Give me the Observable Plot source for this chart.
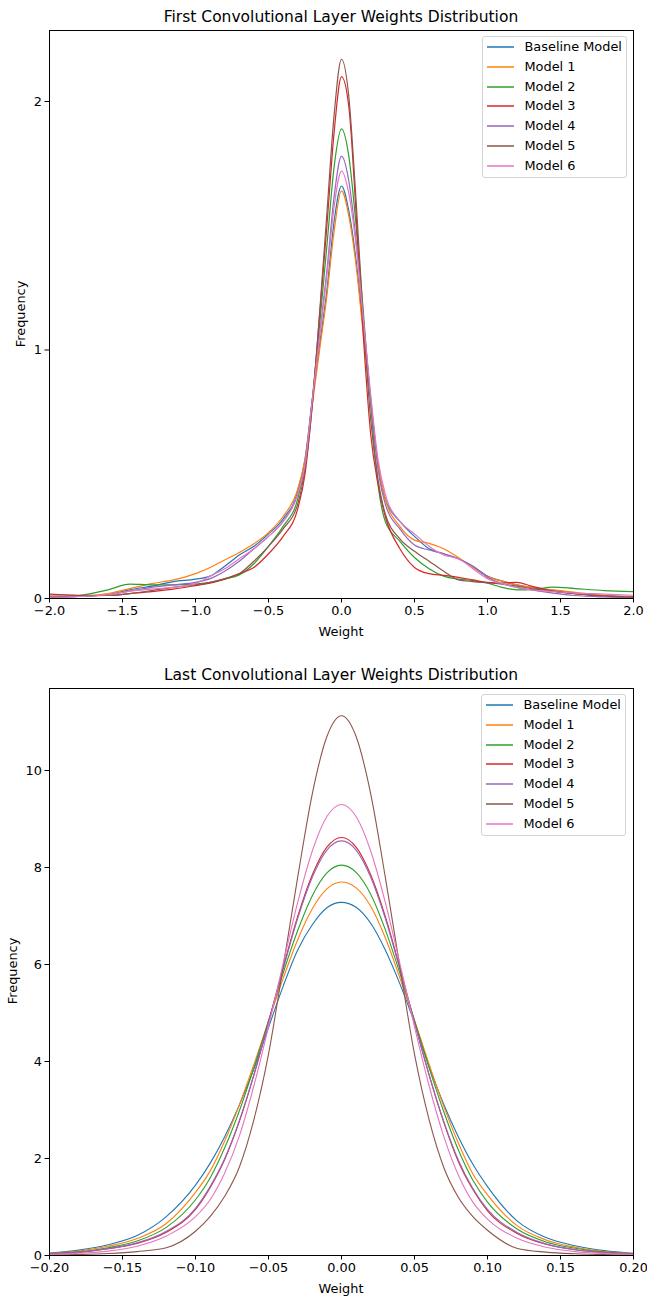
<!DOCTYPE html>
<html><head><meta charset="utf-8">
<script src="https://cdn.jsdelivr.net/npm/d3@7"></script>
<script src="https://cdn.jsdelivr.net/npm/@observablehq/plot@0.6"></script>
<style>
body{margin:0;background:#fff;font-family:"DejaVu Sans",sans-serif;}
#root{position:relative;width:647px;height:1302px;overflow:hidden;background:#fff;}
.abs{position:absolute;white-space:nowrap;color:#000;}
.title{font-size:15.5px;transform:translate(-50%,-50%);}
.label{font-size:12.9px;transform:translate(-50%,-50%);}
.ylabel{font-size:12.9px;transform:translate(-50%,-50%) rotate(-90deg);}
.legend{border:1px solid #d4d4d4;border-radius:3px;background:rgba(255,255,255,0.85);box-sizing:border-box;}
.legrow{position:absolute;font-size:12.9px;white-space:nowrap;line-height:16px;}
</style></head><body><div id="root"></div>
<script>
// ---------- data ----------
const seriesNames = ["Baseline Model","Model 1","Model 2","Model 3","Model 4","Model 5","Model 6"];
const seriesColors = ["#1f77b4","#ff7f0e","#2ca02c","#d62728","#9467bd","#8c564b","#e377c2"];

// First convolutional layer (weight grid)
const firstWeights = [-2.0,-1.8,-1.6,-1.45,-1.3,-1.15,-1.0,-0.9,-0.8,-0.7,-0.6,-0.5,-0.4,-0.3,-0.25,-0.2,-0.15,-0.1,-0.05,0,0.05,0.1,0.15,0.2,0.25,0.3,0.4,0.5,0.6,0.7,0.8,0.9,1.0,1.1,1.2,1.3,1.45,1.6,1.8,2.0];
const firstBaseline = [0.005,0.008,0.015,0.035,0.05,0.068,0.078,0.09,0.13,0.175,0.21,0.26,0.32,0.43,0.56,0.80,1.02,1.24,1.52,1.66,1.56,1.36,1.08,0.80,0.54,0.40,0.31,0.25,0.20,0.18,0.16,0.13,0.09,0.07,0.055,0.045,0.03,0.02,0.012,0.008];
const firstModel1  = [0.005,0.01,0.02,0.04,0.06,0.075,0.10,0.125,0.155,0.185,0.22,0.265,0.33,0.44,0.56,0.78,1.0,1.22,1.48,1.64,1.54,1.34,1.06,0.80,0.54,0.40,0.29,0.235,0.222,0.20,0.165,0.125,0.088,0.07,0.055,0.045,0.035,0.025,0.012,0.006];
const firstModel2  = [0.006,0.012,0.035,0.058,0.055,0.055,0.058,0.065,0.078,0.095,0.14,0.21,0.29,0.40,0.54,0.80,1.10,1.42,1.74,1.89,1.78,1.50,1.15,0.78,0.46,0.31,0.23,0.165,0.12,0.09,0.078,0.072,0.062,0.045,0.035,0.036,0.046,0.04,0.032,0.028];
const firstModel3  = [0.018,0.013,0.012,0.02,0.028,0.038,0.052,0.062,0.078,0.10,0.125,0.18,0.25,0.36,0.50,0.78,1.14,1.50,1.88,2.10,1.98,1.55,1.05,0.66,0.46,0.33,0.20,0.125,0.10,0.093,0.085,0.075,0.065,0.062,0.065,0.05,0.03,0.02,0.01,0.005];
const firstModel4  = [0.005,0.008,0.015,0.03,0.045,0.055,0.065,0.08,0.11,0.15,0.20,0.25,0.31,0.42,0.54,0.80,1.06,1.32,1.62,1.78,1.68,1.44,1.12,0.80,0.52,0.38,0.28,0.215,0.195,0.18,0.16,0.13,0.085,0.06,0.045,0.035,0.022,0.012,0.006,0.003];
const firstModel5  = [0.01,0.01,0.012,0.02,0.032,0.045,0.055,0.065,0.08,0.10,0.15,0.21,0.28,0.38,0.52,0.78,1.15,1.55,1.95,2.17,2.02,1.60,1.12,0.72,0.48,0.34,0.24,0.19,0.15,0.11,0.075,0.068,0.063,0.058,0.05,0.04,0.03,0.02,0.01,0.005];
const firstModel6  = [0.005,0.008,0.015,0.03,0.038,0.045,0.06,0.09,0.12,0.16,0.20,0.25,0.31,0.42,0.54,0.80,1.05,1.30,1.58,1.72,1.63,1.42,1.12,0.82,0.56,0.42,0.31,0.26,0.21,0.175,0.16,0.12,0.08,0.06,0.045,0.035,0.028,0.022,0.018,0.013];

// Last convolutional layer (weight grid)
const lastWeights = [-0.2,-0.18,-0.16,-0.14,-0.12,-0.1,-0.09,-0.08,-0.07,-0.06,-0.05,-0.04,-0.03,-0.02,-0.01,0,0.01,0.02,0.03,0.04,0.05,0.06,0.07,0.08,0.09,0.1,0.12,0.14,0.16,0.18,0.2];
const lastBaseline = [0.05,0.11,0.22,0.41,0.8,1.45,1.9,2.45,3.1,3.85,4.7,5.55,6.3,6.82,7.17,7.28,7.18,6.85,6.3,5.6,4.8,3.9,3.12,2.45,1.88,1.42,0.72,0.37,0.2,0.1,0.045];
const lastModel1  = [0.04,0.09,0.19,0.35,0.66,1.3,1.74,2.36,3.1,3.94,4.83,5.71,6.51,7.15,7.56,7.7,7.58,7.2,6.55,5.72,4.85,3.94,3.08,2.32,1.68,1.25,0.62,0.32,0.17,0.08,0.04];
const lastModel2  = [0.035,0.075,0.16,0.3,0.58,1.15,1.6,2.22,2.98,3.87,4.84,5.82,6.7,7.42,7.89,8.05,7.9,7.45,6.72,5.82,4.84,3.87,2.97,2.18,1.55,1.1,0.55,0.28,0.15,0.07,0.035];
const lastModel3  = [0.03,0.065,0.14,0.25,0.48,0.95,1.4,1.98,2.76,3.72,4.81,5.93,6.99,7.85,8.42,8.62,8.42,7.85,6.99,5.93,4.81,3.72,2.75,1.94,1.36,0.92,0.46,0.23,0.12,0.06,0.03];
const lastModel4  = [0.03,0.065,0.14,0.26,0.5,0.97,1.42,2.0,2.78,3.73,4.8,5.9,6.95,7.8,8.36,8.55,8.36,7.8,6.95,5.9,4.8,3.73,2.77,1.97,1.38,0.95,0.48,0.24,0.12,0.06,0.03];
const lastModel5  = [0.01,0.02,0.04,0.08,0.16,0.5,0.8,1.22,1.82,2.8,4.15,5.95,7.8,9.52,10.7,11.13,10.7,9.52,7.8,5.95,4.15,2.8,1.82,1.2,0.8,0.52,0.15,0.07,0.035,0.018,0.01];
const lastModel6  = [0.02,0.045,0.09,0.19,0.4,0.8,1.15,1.7,2.46,3.5,4.72,6.02,7.28,8.34,9.05,9.3,9.05,8.34,7.28,6.02,4.72,3.5,2.46,1.66,1.1,0.75,0.36,0.17,0.08,0.04,0.02];

const firstXTicks = [-2.0,-1.5,-1.0,-0.5,0.0,0.5,1.0,1.5,2.0];
const firstYTicks = [0,1,2];
const lastXTicks = [-0.20,-0.15,-0.10,-0.05,0.00,0.05,0.10,0.15,0.20];
const lastYTicks = [0,2,4,6,8,10];

// ---------- drawing ----------
const root = document.getElementById("root");
function addDiv(cls, text, x, y) {
  const d = document.createElement("div");
  d.className = "abs " + cls;
  d.textContent = text;
  d.style.left = x + "px"; d.style.top = y + "px";
  root.appendChild(d);
  return d;
}
function addLegend(left, top) {
  const box = document.createElement("div");
  box.className = "abs legend";
  box.style.left = left + "px"; box.style.top = top + "px";
  box.style.width = "145px"; box.style.height = "142px";
  seriesNames.forEach((name, i) => {
    const row = document.createElement("div");
    row.className = "legrow";
    row.style.left = "4px";
    row.style.top = (11.3 + i * 19.7 - 8 - 1) + "px";
    const sw = document.createElementNS("http://www.w3.org/2000/svg", "svg");
    sw.setAttribute("width", "27"); sw.setAttribute("height", "16");
    sw.style.verticalAlign = "top";
    const ln = document.createElementNS("http://www.w3.org/2000/svg", "line");
    ln.setAttribute("x1", "0"); ln.setAttribute("x2", "27");
    ln.setAttribute("y1", "8"); ln.setAttribute("y2", "8");
    ln.setAttribute("stroke", seriesColors[i]); ln.setAttribute("stroke-width", "1.5");
    sw.appendChild(ln);
    row.appendChild(sw);
    const t = document.createElement("span");
    t.textContent = name;
    t.style.marginLeft = "10.5px";
    row.appendChild(t);
    box.appendChild(row);
  });
  root.appendChild(box);
}

function drawChart(cfg) {
  const data = seriesNames.flatMap((name, i) => cfg.xs.map((x, j) => ({name, x, y: cfg.ys[i][j]})));
  const mb = cfg.height - 5 - cfg.frameH;
  const svg = Plot.plot({
    width: 647, height: cfg.height,
    marginLeft: 49, marginRight: 14, marginTop: 5, marginBottom: mb,
    style: {fontFamily: "DejaVu Sans", fontSize: "12.9px", color: "#000", background: "transparent", overflow: "visible"},
    x: {domain: cfg.xDomain},
    y: {domain: cfg.yDomain},
    color: {domain: seriesNames, range: seriesColors},
    marks: [
      Plot.line(data, {x: "x", y: "y", z: "name", stroke: "name", strokeWidth: cfg.sw, curve: "monotone-x", clip: true}),
      Plot.axisX({ticks: cfg.xTicks, tickFormat: cfg.xFormat, tickSize: 4.5, tickPadding: 3, label: null}),
      Plot.axisY({ticks: cfg.yTicks, tickFormat: d3.format("d"), tickSize: 4.5, tickPadding: 3, label: null}),
      Plot.frame({stroke: "#000", strokeWidth: 1})
    ]
  });
  svg.style.position = "absolute";
  svg.style.left = "0px";
  svg.style.top = cfg.top + "px";
  root.appendChild(svg);
}

drawChart({
  top: 25, height: 618, frameH: 568,
  xs: firstWeights,
  ys: [firstBaseline, firstModel1, firstModel2, firstModel3, firstModel4, firstModel5, firstModel6],
  xDomain: [-2, 2], yDomain: [0, 568 / 248.5],
  xTicks: firstXTicks, yTicks: firstYTicks, xFormat: d3.format(".1f"), sw: 1.2
});
drawChart({
  top: 683, height: 617, frameH: 567,
  xs: lastWeights,
  ys: [lastBaseline, lastModel1, lastModel2, lastModel3, lastModel4, lastModel5, lastModel6],
  xDomain: [-0.2, 0.2], yDomain: [0, 567 / 48.5],
  xTicks: lastXTicks, yTicks: lastYTicks, xFormat: d3.format(".2f"), sw: 1.1
});

addDiv("title", "First Convolutional Layer Weights Distribution", 341, 17);
addDiv("title", "Last Convolutional Layer Weights Distribution", 341, 675);
addDiv("label", "Weight", 341, 631);
addDiv("label", "Weight", 341, 1288);
addDiv("ylabel", "Frequency", 20, 314);
addDiv("ylabel", "Frequency", 12, 971);
addLegend(482, 36);
addLegend(481, 694);
</script></body></html>
